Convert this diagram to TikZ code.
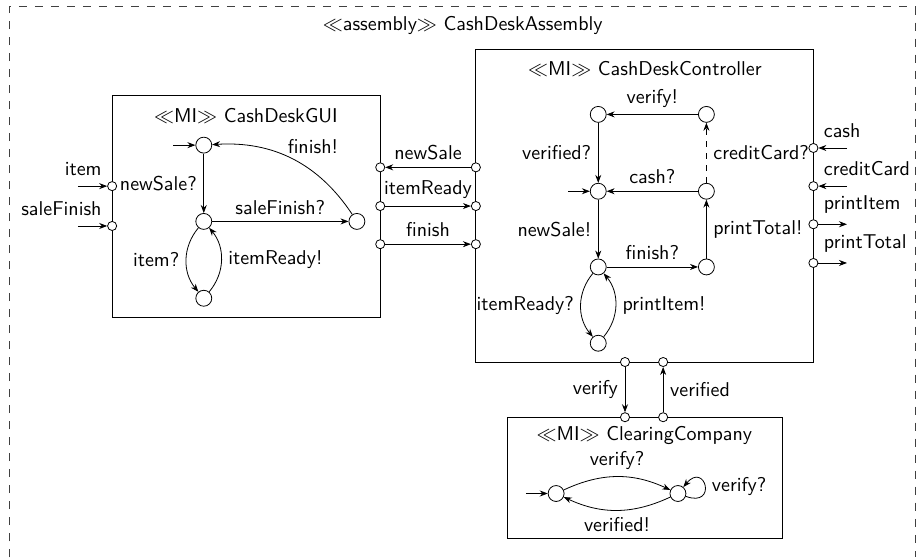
\documentclass[tikz,border=0pt]{standalone}
\usepackage{fontspec}
\usetikzlibrary{arrows.meta}
\renewcommand{\familydefault}{\sfdefault}

\begin{document}
\begin{tikzpicture}[thin, >={Stealth[length=4pt,width=3pt]},
    state/.style={circle, draw, minimum size=0.28cm, inner sep=0pt},
    port/.style={circle, draw, fill=white, minimum size=0.16cm, inner sep=0pt}]
    \useasboundingbox (0cm,0cm) rectangle (16.11cm,9.79cm);

% CashDeskAssembly
    \coordinate (a0) at (0.16cm,0cm);
    \coordinate (a1) at (0.16cm,9.67cm);
    \coordinate (a2) at (16.08cm,9.67cm);
    \coordinate (a3) at (16.08cm,0cm);
    \draw[black!75, line width=0.6pt, dash pattern=on 4pt off 4pt] (a0) -- (a1) -- (a2) -- (a3);
    \node (atitle) at (8.13cm,9.35cm) {$\ll$assembly$\gg$ CashDeskAssembly};

% CashDeskGUI
    \coordinate (gb0) at (1.97cm,4.22cm);
    \coordinate (gb1) at (6.68cm,8.12cm);
    \draw (gb0) rectangle (gb1);
    \node (gtitle) at (4.32cm,7.75cm) {$\ll$MI$\gg$ CashDeskGUI};

    \node[state] (s0) at (3.58cm,7.24cm) {};
    \node[state] (s1) at (3.58cm,5.90cm) {};
    \node[state] (s2) at (3.58cm,4.55cm) {};
    \node[state] (s3) at (6.27cm,5.90cm) {};
    \coordinate (s0in) at (3.04cm,7.24cm);

    \draw[->] (s0in) -- (s0);
    \draw[->] (s0) -- node[left] {newSale?} (s1);
    \draw[->] (s1) -- node[above] {saleFinish?} (s3);
    \draw[->] (s3) to[bend right=30] node[pos=0.55, above right, inner sep=1pt] {finish!} (s0);
    \draw[->] (s1) to[bend right=40] node[left] {item?} (s2);
    \draw[->] (s2) to[bend right=40] node[right] {itemReady!} (s1);

    \node[port] (gp1) at (1.97cm,6.52cm) {};
    \node[port] (gp2) at (1.97cm,5.82cm) {};
    \node[port] (gp3) at (6.68cm,6.85cm) {};
    \node[port] (gp4) at (6.68cm,6.17cm) {};
    \node[port] (gp5) at (6.68cm,5.50cm) {};
    \coordinate (gi1) at (1.37cm,6.52cm);
    \coordinate (gi2) at (1.37cm,5.82cm);
    \draw[->] (gi1) -- (gp1);
    \draw[->] (gi2) -- (gp2);
    \node[above left] (litem) at (gp1.north west) {item};
    \node[above left] (lsale) at (gp2.north west) {saleFinish};

% CashDeskController
    \coordinate (cb0) at (8.36cm,3.43cm);
    \coordinate (cb1) at (14.29cm,8.93cm);
    \draw (cb0) rectangle (cb1);
    \node (ctitle) at (11.33cm,8.58cm) {$\ll$MI$\gg$ CashDeskController};

    \node[state] (c0) at (10.51cm,7.78cm) {};
    \node[state] (c1) at (12.41cm,7.78cm) {};
    \node[state] (c2) at (10.51cm,6.43cm) {};
    \node[state] (c3) at (12.41cm,6.43cm) {};
    \node[state] (c4) at (10.51cm,5.10cm) {};
    \node[state] (c5) at (12.41cm,5.10cm) {};
    \node[state] (c6) at (10.51cm,3.76cm) {};
    \coordinate (c2in) at (9.98cm,6.43cm);

    \draw[->] (c2in) -- (c2);
    \draw[->] (c1) -- node[above] {verify!} (c0);
    \draw[->] (c0) -- node[left] {verified?} (c2);
    \draw[->] (c3) -- node[above] {cash?} (c2);
    \draw[->, dashed] (c3) -- node[right] {creditCard?} (c1);
    \draw[->] (c2) -- node[left] {newSale!} (c4);
    \draw[->] (c4) -- node[above] {finish?} (c5);
    \draw[->] (c5) -- node[right] {printTotal!} (c3);
    \draw[->] (c4) to[bend right=40] node[left] {itemReady?} (c6);
    \draw[->] (c6) to[bend right=40] node[right] {printItem!} (c4);

    \node[port] (cp1) at (8.36cm,6.85cm) {};
    \node[port] (cp2) at (8.36cm,6.17cm) {};
    \node[port] (cp3) at (8.36cm,5.50cm) {};
    \node[port] (cp4) at (14.29cm,7.19cm) {};
    \node[port] (cp5) at (14.29cm,6.52cm) {};
    \node[port] (cp6) at (14.29cm,5.85cm) {};
    \node[port] (cp7) at (14.29cm,5.17cm) {};
    \node[port] (cp8) at (10.98cm,3.43cm) {};
    \node[port] (cp9) at (11.65cm,3.43cm) {};
    \coordinate (co4) at (14.88cm,7.19cm);
    \coordinate (co5) at (14.88cm,6.52cm);
    \coordinate (co6) at (14.88cm,5.85cm);
    \coordinate (co7) at (14.88cm,5.17cm);

    \draw[->] (co4) -- (cp4);
    \draw[->] (co5) -- (cp5);
    \draw[->] (cp6) -- (co6);
    \draw[->] (cp7) -- (co7);
    \node[above right] (lcash) at (cp4.north east) {cash};
    \node[above right] (lcredit) at (cp5.north east) {creditCard};
    \node[above right] (lpitem) at (cp6.north east) {printItem};
    \node[above right] (lptotal) at (cp7.north east) {printTotal};

    \draw[->] (cp1) -- node[above] {newSale} (gp3);
    \draw[->] (gp4) -- node[above] {itemReady} (cp2);
    \draw[->] (gp5) -- node[above] {finish} (cp3);

% ClearingCompany
    \coordinate (kb0) at (8.91cm,0.33cm);
    \coordinate (kb1) at (13.74cm,2.46cm);
    \draw (kb0) rectangle (kb1);
    \node (ktitle) at (11.32cm,2.14cm) {$\ll$MI$\gg$ ClearingCompany};

    \node[state] (k0) at (9.77cm,1.12cm) {};
    \node[state] (k1) at (11.91cm,1.12cm) {};
    \coordinate (k0in) at (9.24cm,1.12cm);

    \draw[->] (k0in) -- (k0);
    \draw[->] (k0) to[bend left=25] node[above] {verify?} (k1);
    \draw[->] (k1) to[bend left=25] node[below] {verified!} (k0);
    \draw[->] (k1) to[out=-20,in=50,looseness=6,min distance=6mm] node[right] {verify?} (k1);

    \node[port] (kp1) at (10.98cm,2.46cm) {};
    \node[port] (kp2) at (11.65cm,2.46cm) {};
    \draw[->] (cp8) -- node[left] {verify} (kp1);
    \draw[->] (kp2) -- node[right] {verified} (cp9);

\end{tikzpicture}
\end{document}
